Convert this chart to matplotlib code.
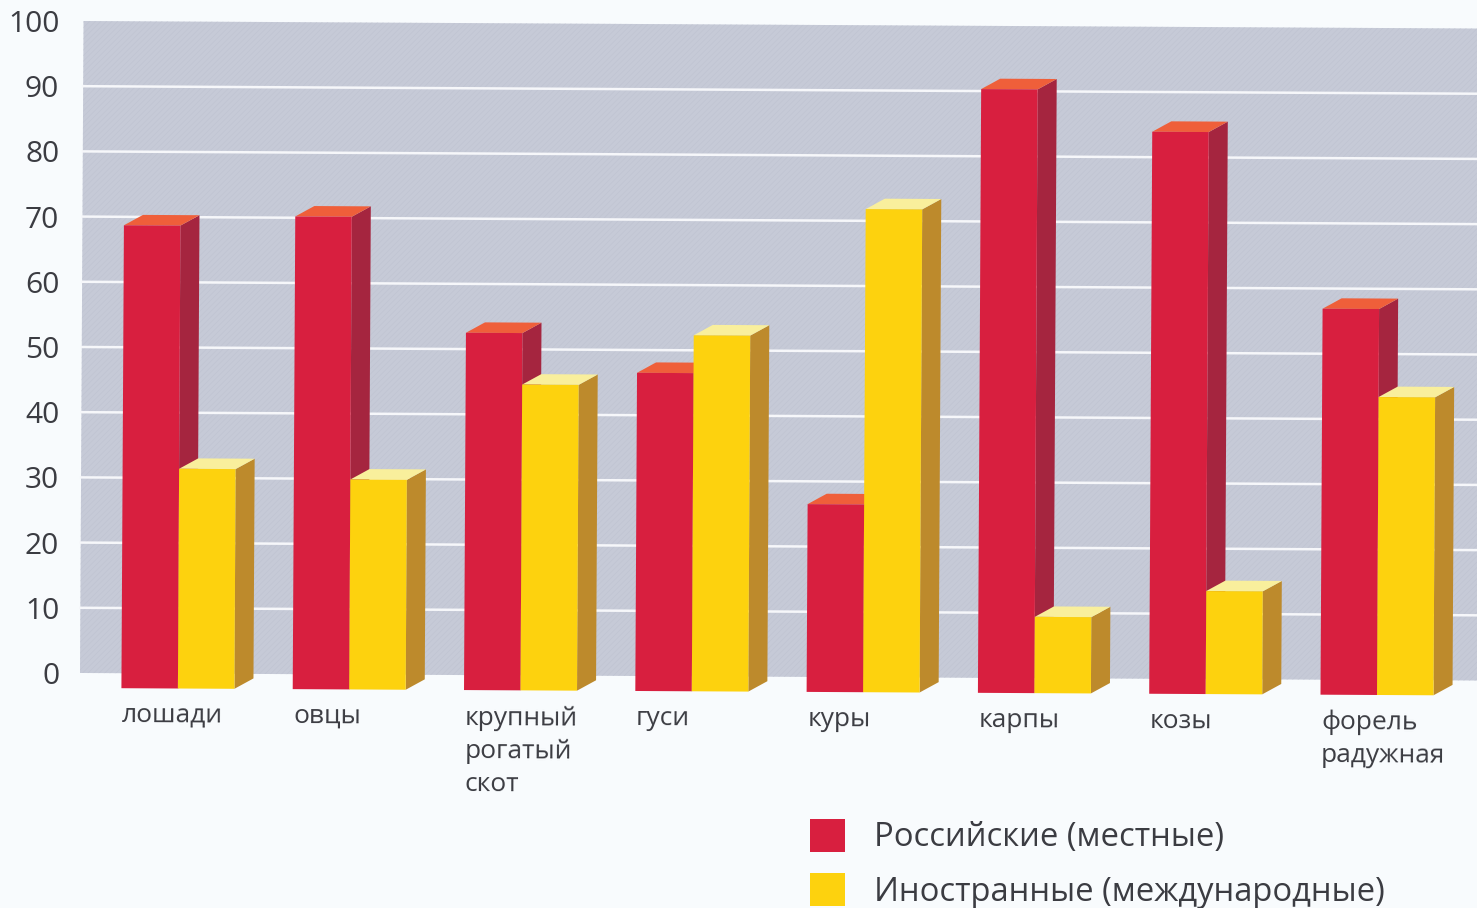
import matplotlib
matplotlib.use("Agg")
import matplotlib.pyplot as plt
from matplotlib.patches import Polygon, Patch
from matplotlib.transforms import Affine2D

plt.rcParams['font.family'] = ['Open Sans', 'DejaVu Sans']
plt.rcParams['hatch.linewidth'] = 0.4

categories = ['лошади', 'овцы', 'крупный\nрогатый\nскот', 'гуси', 'куры', 'карпы', 'козы', 'форель\nрадужная']
local_breeds = [68.7, 70.2, 52.5, 46.5, 26.5, 90.3, 83.9, 56.9]
foreign_breeds = [31.4, 29.9, 44.6, 52.3, 71.8, 9.4, 13.5, 43.4]
y_ticks = [0, 10, 20, 30, 40, 50, 60, 70, 80, 90, 100]
series_names = ['Российские (местные)', 'Иностранные (международные)']

RED = ('#d81f3f', '#a5253f', '#ef5f3a')
YELLOW = ('#fdd20e', '#bd8a2c', '#f9ef9c')
TEXT = '#3b3c42'

W, H = 1477, 908
PX_X = 171.3       # px per category
PX_Y = 6.52        # px per unit
ZERO_Y = 673
FIRST_X = 178      # px of the joint between the first two bars
LEFT = 62

BAR_W = 56.5 / PX_X
DEPTH_X = 19 / PX_X
DEPTH_Y = 10.5 / PX_Y
FLOOR = -2.3

fig = plt.figure(figsize=(W / 100, H / 100), dpi=100, facecolor='#f8fbfd')
ax = fig.add_axes([LEFT / W, 0, 1 - LEFT / W, 1])
ax.set_facecolor('none')
ax.set_xlim((LEFT - FIRST_X) / PX_X, (W - FIRST_X) / PX_X)
ax.set_ylim((ZERO_Y - H) / PX_Y, ZERO_Y / PX_Y)
for s in ax.spines.values():
    s.set_visible(False)

# the scan is turned slightly clockwise
tilt = Affine2D().rotate_around(83, H - ZERO_Y, -0.0054)
trans = ax.transData + tilt

# panel and grid
panel_x0 = (80 - FIRST_X) / PX_X
panel_x1 = (W + 20 - FIRST_X) / PX_X
ax.add_patch(Polygon([(panel_x0, 0), (panel_x1, 0), (panel_x1, 100), (panel_x0, 100)],
                     facecolor='#c6cad7', edgecolor='#bfc3d1', hatch='//////', linewidth=0,
                     transform=trans, zorder=1, clip_on=False))
for t in y_ticks[1:-1]:
    ax.plot([panel_x0, panel_x1], [t, t], color='#f6f7fa', lw=1.8, transform=trans, zorder=2)


def draw_bar(x0, value, colors, z):
    x1 = x0 + BAR_W
    ax.add_patch(Polygon([(x1, FLOOR), (x1 + DEPTH_X, FLOOR + DEPTH_Y),
                          (x1 + DEPTH_X, value + DEPTH_Y), (x1, value)],
                         facecolor=colors[1], linewidth=0, transform=trans, zorder=z))
    ax.add_patch(Polygon([(x0, value), (x1, value), (x1 + DEPTH_X, value + DEPTH_Y),
                          (x0 + DEPTH_X, value + DEPTH_Y)],
                         facecolor=colors[2], linewidth=0, transform=trans, zorder=z))
    ax.add_patch(Polygon([(x0, FLOOR), (x1, FLOOR), (x1, value), (x0, value)],
                         facecolor=colors[0], linewidth=0, transform=trans, zorder=z + 0.1))


for i, (a, b) in enumerate(zip(local_breeds, foreign_breeds)):
    draw_bar(i - BAR_W, a, RED, 3)
    draw_bar(i, b, YELLOW, 4)
    ax.text(i - BAR_W + 0.005, -4.6, categories[i], transform=trans, rotation=-0.3,
            rotation_mode='anchor', ha='left', va='top', fontsize=19, color=TEXT,
            linespacing=1.42, zorder=5)

ax.set_xticks([])
ax.set_yticks(y_ticks)
ax.tick_params(axis='y', length=0, pad=2, labelsize=21.5, labelcolor=TEXT)

handles = [Patch(facecolor=RED[0], label=series_names[0]),
           Patch(facecolor=YELLOW[0], label=series_names[1])]
fig.legend(handles=handles, loc='upper left', bbox_to_anchor=(803 / W, 1 - 812 / H),
           frameon=False, fontsize=23.6, labelcolor=TEXT, handlelength=1.07, handleheight=1.17,
           handletextpad=0.9, labelspacing=0.58, borderpad=0.2, borderaxespad=0)

fig.savefig('out.png', dpi=100, facecolor=fig.get_facecolor())
